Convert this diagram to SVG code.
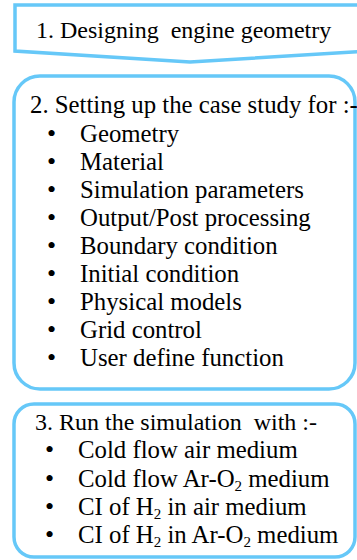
<svg xmlns="http://www.w3.org/2000/svg" width="357" height="560" viewBox="0 0 357 560">
<style>
.box{fill:#fff;stroke:#66C8F8;stroke-width:3.5}
text{font-family:"Liberation Serif","Times New Roman",serif;font-size:24.8px;fill:#000;white-space:pre}
.t{font-size:24px}
.b{font-size:26px}
.sub{font-size:15px}
</style>
<rect width="357" height="560" fill="#fff"/>
<g id="connectors"></g>
<g id="node1">
<path class="box" d="M15,5 L368,5 L368,51 L190,62 L15,51 Z"/>
<text class="t" x="36" y="38" xml:space="preserve">1. Designing  engine geometry</text>
</g>
<g id="node2">
<rect class="box" x="14" y="76" width="341" height="313" rx="26" ry="26"/>
<text x="30" y="113">2. Setting up the case study for :-</text>
<g>
<text class="b" x="47" y="142">•</text><text x="80" y="142">Geometry</text>
<text class="b" x="47" y="170">•</text><text x="80" y="170">Material</text>
<text class="b" x="47" y="198">•</text><text x="80" y="198">Simulation parameters</text>
<text class="b" x="47" y="226">•</text><text x="80" y="226">Output/Post processing</text>
<text class="b" x="47" y="254">•</text><text x="80" y="254">Boundary condition</text>
<text class="b" x="47" y="282">•</text><text x="80" y="282">Initial condition</text>
<text class="b" x="47" y="310">•</text><text x="80" y="310">Physical models</text>
<text class="b" x="47" y="338">•</text><text x="80" y="338">Grid control</text>
<text class="b" x="47" y="366">•</text><text x="80" y="366">User define function</text>
</g>
</g>
<g id="node3">
<rect class="box" x="14" y="404" width="341" height="153" rx="20" ry="20"/>
<text class="t" x="35" y="430" xml:space="preserve">3. Run the simulation  with :-</text>
<text class="b" x="45" y="458">•</text><text x="78" y="458">Cold flow air medium</text>
<text class="b" x="45" y="487">•</text><text x="78" y="487">Cold flow Ar-O<tspan class="sub" dy="4">2</tspan><tspan dy="-4"> medium</tspan></text>
<text class="b" x="45" y="515">•</text><text x="78" y="515">CI of H<tspan class="sub" dy="4">2</tspan><tspan dy="-4"> in air medium</tspan></text>
<text class="b" x="45" y="543">•</text><text x="78" y="543">CI of H<tspan class="sub" dy="4">2</tspan><tspan dy="-4"> in Ar-O</tspan><tspan class="sub" dy="4">2</tspan><tspan dy="-4"> medium</tspan></text>
</g>
</svg>
